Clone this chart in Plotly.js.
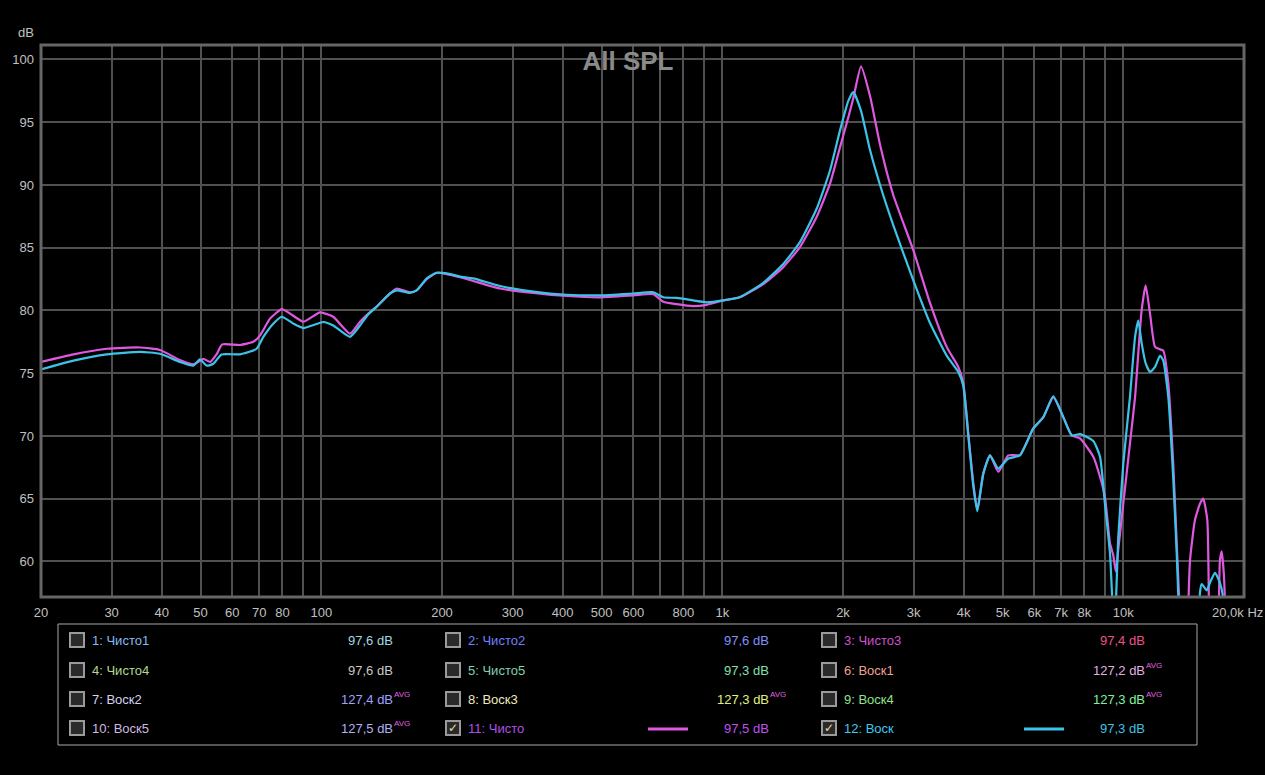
<!DOCTYPE html>
<html>
<head>
<meta charset="utf-8">
<script src="https://cdn.plot.ly/plotly-3.0.1.min.js"></script>
<style>
html,body{margin:0;padding:0;background:#000;}
#chart{width:1265px;height:775px;}
</style>
</head>
<body>
<div id="chart"></div>
<script>
// ---------------- DATA ----------------
const chistoFreq = [20,24.1,29.2,35.3,39.6,44.4,48.0,50.8,52.8,54.9,56.6,62.7,67.7,70.3,74.5,79.7,83.6,90.2,99.3,107.1,117.9,124.9,131,137.4,148.4,154.2,166.4,172.9,183.2,194,205.5,221.8,239.3,279,337.8,409.3,495.5,600,673,712.6,769.5,846.5,914,1006,1107,1266,1419,1562,1719,1856,1966,2062,2122,2218,2335,2474,2669,2995,3296,3627,3878,3990,4107,4227,4324,4476,4652,4879,5167,5526,5964,6318,6690,7086,7436,7800,8418,8749,9000,9265,9440,9580,9720,10000,10390,10700,10900,11110,11370,11660,12000,12350,12580,12950,13320,13590,13850,14100,14400,14530,14670,15090,15530,15830,16200,16380,16600,17100,17300,17420,17600,17830,18000,18300,20000];
const chistoDb = [75.9,76.5,76.95,77.05,76.85,76.05,75.7,76.15,75.9,76.55,77.3,77.25,77.5,78.0,79.35,80.1,79.75,79.1,79.85,79.5,78.15,79.1,79.75,80.3,81.35,81.75,81.45,81.6,82.5,83.0,82.9,82.65,82.35,81.75,81.4,81.15,81.05,81.2,81.3,80.7,80.5,80.35,80.45,80.8,81.05,82.1,83.45,85.05,87.45,90.1,93.0,95.4,96.9,99.45,97.1,93.2,89.2,84.8,80.6,77.1,75.5,74.2,70.2,66.2,64.1,67.0,68.45,67.15,68.45,68.5,70.6,71.5,73.1,71.5,70.05,69.8,68.35,66.75,65.15,61.45,60.5,59.2,61.0,64.6,69.4,73.1,76.6,80.0,82.0,79.75,77.1,76.9,76.8,74.2,67.8,61.45,55.5,50,50,56.5,60.1,63.3,64.6,65.0,63.3,55,50,50,56,60.1,60.8,58.8,55,50,50];

const voskFreq = [20,24.1,29.2,35.3,39.6,44.4,48.0,49.8,51.8,53.8,56.4,62.7,69.0,71.7,75.9,79.7,85.2,90.2,101.2,107.1,117.9,124.9,131,137.4,148.4,154.2,166.4,172.9,183.2,194,205.5,221.8,239.3,279,337.8,409.3,495.5,600,673,712.6,769.5,846.5,914,1006,1107,1266,1419,1562,1719,1856,1966,2062,2122,2218,2335,2474,2669,2995,3296,3627,3878,3990,4107,4227,4324,4476,4652,4879,5167,5526,5964,6318,6690,7086,7436,7800,8418,8749,9000,9265,9500,9720,10000,10390,10700,10900,11110,11370,11660,12000,12350,12580,12950,13320,13590,13850,14200,15300,15530,15690,16140,16500,16930,17420,17760,18000,20000];
const voskDb = [75.3,76.0,76.5,76.7,76.55,75.9,75.6,76.1,75.6,75.75,76.5,76.5,76.95,77.9,78.95,79.5,78.95,78.6,79.08,78.8,77.9,78.8,79.7,80.3,81.35,81.6,81.4,81.6,82.55,83.0,82.95,82.7,82.55,81.95,81.5,81.25,81.2,81.35,81.45,81.05,81.0,80.8,80.65,80.8,81.07,82.2,83.7,85.45,88.1,91.15,94.35,96.7,97.4,95.9,92.8,90.0,86.8,82.4,79.0,76.4,75.1,74.0,70.0,66.0,64.0,67.0,68.45,67.4,68.2,68.45,70.6,71.5,73.15,71.5,70.05,70.15,69.6,68.35,64.6,60.65,54,62.0,67.8,73.1,77.9,79.2,77.4,75.8,75.1,75.5,76.4,76.0,73.1,66.7,60.65,54,50,50,57.5,58.2,57.7,58.4,59.1,58.3,57.0,50,50];

const xTickVals = [20,30,40,50,60,70,80,90,100,200,300,400,500,600,700,800,900,1000,2000,3000,4000,5000,6000,7000,8000,9000,10000,20000];
const xTickText = ['20','30','40','50','60','70','80','','100','200','300','400','500','600','','800','','1k','2k','3k','4k','5k','6k','7k','8k','','10k',''];
const yTickVals = [60,65,70,75,80,85,90,95,100];
const yTickText = ['60','65','70','75','80','85','90','95','100'];

const legendNames  = ['1: Чисто1','2: Чисто2','3: Чисто3','4: Чисто4','5: Чисто5','6: Воск1','7: Воск2','8: Воск3','9: Воск4','10: Воск5','11: Чисто','12: Воск'];
const legendValues = ['97,6 dB','97,6 dB','97,4 dB','97,6 dB','97,3 dB','127,2 dB','127,4 dB','127,3 dB','127,3 dB','127,5 dB','97,5 dB','97,3 dB'];
const legendAvg    = [false,false,false,false,false,true,true,true,true,true,false,false];
const legendChecked= [false,false,false,false,false,false,false,false,false,false,true,true];

// ---------------- STYLE ----------------
const nameColors  = ['#8ab8f0','#7080ff','#d050d0','#b0d890','#80d0b0','#f0a090','#d8d0f0','#f0e8c0','#90e090','#d0b8e0','#b050e8','#40c8f0'];
const valueColors = ['#a0d8e0','#8090ff','#f05090','#c8c8c8','#80e0b0','#e0b0e0','#a0a0ff','#e0f080','#80f0a0','#b0b0f0','#c050f0','#40c0e0'];
const colMagenta = '#e058e0';
const colCyan = '#3cc4e8';

const L = 41, R = 1244, T = 45, B = 597;
const px = x => (x - L) / (R - L);
const py = y => (B - y) / (B - T);

const shapes = [];
const annotations = [];

// plot border
shapes.push({type:'rect', xref:'paper', yref:'paper', x0:0, x1:1, y0:0, y1:1, line:{color:'#666666', width:3}, layer:'above'});

// legend box
shapes.push({type:'rect', xref:'paper', yref:'paper', x0:px(58), x1:px(1197), y0:py(624), y1:py(745), line:{color:'#a8a8a8', width:1}});

const colBox = [77, 453, 829];
const colLabel = [91, 467, 843];
const colValRight = [394, 770, 1146];
const rowY = [640, 670, 699, 728];

for (let i = 0; i < legendNames.length; i++) {
  const c = i % 3, r = Math.floor(i / 3);
  const cx = colBox[c], cy = rowY[r];
  shapes.push({type:'rect', xref:'paper', yref:'paper', x0:px(cx-7), x1:px(cx+7), y0:py(cy+7), y1:py(cy-7),
    fillcolor:'#2a2a2a', line:{color:'#9a9a9a', width:2}});
  if (legendChecked[i]) {
    annotations.push({xref:'paper', yref:'paper', x:px(cx), y:py(cy), text:'✓', showarrow:false,
      xanchor:'center', yanchor:'middle', font:{family:'DejaVu Sans', size:12, color:'#f0e0a0'}});
  }
  annotations.push({xref:'paper', yref:'paper', x:px(colLabel[c]), y:py(cy), text:legendNames[i], showarrow:false,
    xanchor:'left', yanchor:'middle', borderpad:0, font:{family:'Liberation Sans', size:13, color:nameColors[i]}});
  annotations.push({xref:'paper', yref:'paper', x:px(colValRight[c]), y:py(cy), text:legendValues[i], showarrow:false,
    xanchor:'right', yanchor:'middle', borderpad:0, font:{family:'Liberation Sans', size:13, color:valueColors[i]}});
  if (legendAvg[i]) {
    annotations.push({xref:'paper', yref:'paper', x:px(colValRight[c]-1), y:py(cy-5), text:'AVG', showarrow:false,
      xanchor:'left', yanchor:'middle', borderpad:0, font:{family:'Liberation Sans', size:8, color:'#e060e0'}});
  }
}
// legend sample lines
shapes.push({type:'line', xref:'paper', yref:'paper', x0:px(648), x1:px(688), y0:py(729), y1:py(729), line:{color:colMagenta, width:3}});
shapes.push({type:'line', xref:'paper', yref:'paper', x0:px(1024), x1:px(1064), y0:py(729), y1:py(729), line:{color:colCyan, width:3}});

// axis labels
annotations.push({xref:'paper', yref:'paper', x:px(26), y:py(33), text:'dB', showarrow:false, xanchor:'center', yanchor:'middle',
  font:{family:'Liberation Sans', size:13, color:'#c0c0c0'}});
annotations.push({xref:'paper', yref:'paper', x:px(1265), y:py(612), text:'20,0k Hz', showarrow:false, xanchor:'right', yanchor:'middle',
  font:{family:'Liberation Sans', size:13, color:'#c0c0c0'}});

const traces = [
  {x: chistoFreq, y: chistoDb, type:'scatter', mode:'lines', name:'11: Чисто',
   line:{color:colMagenta, width:2.2, shape:'spline', smoothing:0.5}},
  {x: voskFreq, y: voskDb, type:'scatter', mode:'lines', name:'12: Воск',
   line:{color:colCyan, width:2.2, shape:'spline', smoothing:0.5}}
];

const layout = {
  width:1265, height:775,
  paper_bgcolor:'#000', plot_bgcolor:'#000',
  margin:{l:L, r:1265-R, t:T, b:775-B, pad:0},
  showlegend:false,
  title:{text:'<b>All SPL</b>', x:628/1265, xanchor:'center', y:1-61/775, yanchor:'middle',
    font:{family:'Liberation Sans', size:26, color:'#8a8a8a'}},
  xaxis:{type:'log', range:[Math.log10(20), Math.log10(20000)], tickmode:'array', tickvals:xTickVals, ticktext:xTickText,
    showgrid:true, gridcolor:'#505050', gridwidth:2, zeroline:false, showline:false, ticks:'',
    ticklabelstandoff:6, tickfont:{family:'Liberation Sans', size:13, color:'#c0c0c0'}, fixedrange:true},
  yaxis:{range:[57.17, 101.15], tickmode:'array', tickvals:yTickVals, ticktext:yTickText,
    showgrid:true, gridcolor:'#505050', gridwidth:2, zeroline:false, showline:false, ticks:'',
    ticklabelstandoff:6, tickfont:{family:'Liberation Sans', size:13, color:'#c0c0c0'}, fixedrange:true},
  shapes: shapes,
  annotations: annotations
};

Plotly.newPlot('chart', traces, layout, {displayModeBar:false, staticPlot:true});
</script>
</body>
</html>
